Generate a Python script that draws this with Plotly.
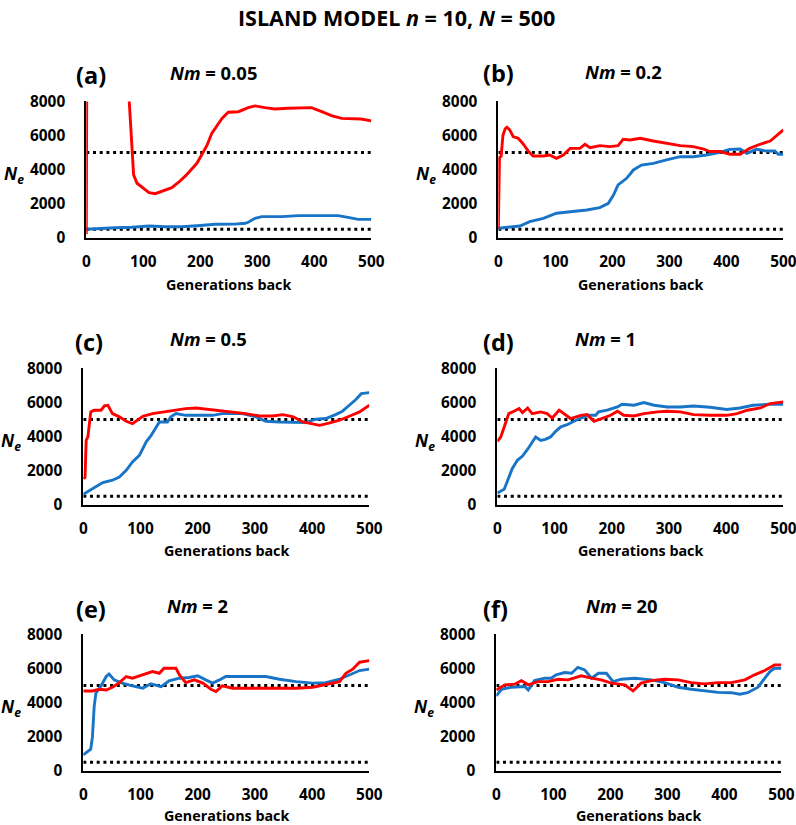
import plotly.graph_objects as go

# ---------------- data ----------------
panel_letters = ["(a)", "(b)", "(c)", "(d)", "(e)", "(f)"]
nm_values = ["0.05", "0.2", "0.5", "1", "2", "20"]
x_ticks = [0, 100, 200, 300, 400, 500]
y_ticks = [0, 2000, 4000, 6000, 8000]
NE_TOTAL = 5000
NE_LOCAL = 500

a_red_x = [0, 1, 74, 75, 78, 80, 83, 89, 101, 110, 121, 136, 150, 162, 174, 185, 194, 203, 212, 220, 226, 238, 249, 267, 284, 296, 313, 331, 354, 378, 395, 413, 430, 448, 465, 482, 500]
a_red_y = [200, 12000, 12000, 8200, 6500, 5000, 3690, 3200, 2900, 2650, 2590, 2770, 2940, 3260, 3630, 4040, 4370, 4900, 5450, 6130, 6420, 7010, 7370, 7400, 7640, 7740, 7640, 7560, 7600, 7600, 7640, 7400, 7170, 7010, 6970, 6970, 6860]
a_blue_x = [0, 22, 51, 80, 110, 140, 168, 200, 226, 260, 279, 284, 296, 308, 343, 372, 401, 442, 459, 477, 500]
a_blue_y = [500, 550, 590, 620, 690, 650, 650, 720, 790, 800, 850, 910, 1140, 1240, 1240, 1300, 1300, 1300, 1200, 1080, 1080]

b_red_x = [0, 2, 5, 8, 12, 15, 20, 26, 35, 44, 53, 61, 79, 90, 102, 114, 126, 143, 152, 161, 178, 196, 210, 219, 231, 249, 272, 295, 319, 342, 360, 371, 389, 406, 424, 441, 459, 477, 500]
b_red_y = [550, 4700, 4800, 6000, 6400, 6490, 6330, 5940, 5840, 5490, 5060, 4800, 4800, 4860, 4660, 4860, 5250, 5250, 5490, 5290, 5410, 5350, 5410, 5780, 5740, 5840, 5680, 5540, 5410, 5350, 5210, 5060, 5060, 4900, 4900, 5250, 5490, 5680, 6330]
b_blue_x = [0, 20, 38, 55, 79, 102, 126, 155, 178, 193, 202, 210, 225, 237, 251, 272, 295, 319, 342, 365, 389, 406, 424, 436, 453, 471, 485, 491, 500]
b_blue_y = [560, 650, 690, 950, 1140, 1440, 1540, 1630, 1770, 2020, 2510, 3100, 3490, 3980, 4270, 4370, 4570, 4760, 4760, 4860, 5020, 5190, 5210, 4960, 5190, 5090, 5090, 4900, 4900]

c_red_x = [0, 3, 5, 8, 13, 19, 31, 37, 43, 51, 63, 75, 86, 104, 121, 139, 162, 179, 197, 214, 238, 261, 284, 308, 331, 349, 367, 384, 402, 413, 431, 448, 466, 483, 500]
c_red_y = [1530, 1600, 3780, 3980, 5450, 5550, 5550, 5800, 5840, 5350, 5160, 4900, 4760, 5190, 5350, 5450, 5550, 5640, 5680, 5610, 5550, 5450, 5350, 5210, 5210, 5290, 5160, 4860, 4760, 4660, 4800, 4960, 5210, 5450, 5840]
c_blue_x = [0, 16, 34, 51, 63, 75, 86, 98, 110, 118, 127, 133, 147, 153, 162, 179, 209, 226, 243, 278, 302, 319, 343, 366, 389, 406, 424, 441, 453, 465, 477, 486, 500]
c_blue_y = [610, 950, 1300, 1440, 1630, 2020, 2510, 2900, 3690, 4040, 4570, 4860, 4860, 5160, 5350, 5250, 5250, 5250, 5350, 5350, 5160, 4900, 4860, 4820, 4820, 5020, 5060, 5290, 5490, 5840, 6190, 6520, 6580]

d_red_x = [0, 6, 15, 20, 29, 38, 44, 53, 61, 76, 87, 96, 108, 119, 128, 146, 157, 169, 181, 198, 210, 221, 239, 256, 280, 297, 320, 343, 372, 401, 419, 437, 460, 477, 500]
d_red_y = [3720, 3980, 4860, 5350, 5490, 5640, 5410, 5680, 5350, 5450, 5350, 5090, 5550, 5250, 5060, 5250, 5290, 4900, 5060, 5250, 5490, 5250, 5210, 5350, 5450, 5490, 5450, 5290, 5250, 5250, 5350, 5550, 5680, 5940, 6040]
d_blue_x = [0, 12, 17, 26, 35, 44, 53, 61, 67, 76, 84, 93, 102, 111, 122, 134, 146, 160, 172, 177, 192, 210, 218, 239, 256, 274, 297, 320, 343, 372, 401, 424, 447, 477, 500]
d_blue_y = [690, 910, 1340, 2120, 2610, 2860, 3260, 3690, 3980, 3780, 3840, 3980, 4310, 4570, 4700, 4900, 5090, 5250, 5250, 5450, 5550, 5740, 5900, 5840, 6000, 5840, 5740, 5740, 5800, 5720, 5590, 5680, 5840, 5900, 5900]

e_red_x = [0, 16, 28, 40, 51, 63, 75, 86, 98, 110, 121, 133, 141, 162, 168, 179, 194, 209, 223, 232, 243, 261, 284, 313, 343, 372, 401, 424, 448, 459, 471, 483, 500]
e_red_y = [4680, 4680, 4780, 4740, 4900, 5170, 5530, 5430, 5570, 5720, 5820, 5720, 6010, 6010, 5620, 5170, 5330, 5140, 4780, 4650, 4980, 4840, 4840, 4800, 4840, 4840, 4900, 5080, 5230, 5720, 5960, 6370, 6460]
e_blue_x = [0, 13, 16, 19, 22, 31, 40, 45, 54, 68, 86, 104, 118, 136, 150, 168, 185, 200, 214, 226, 238, 249, 284, 319, 343, 372, 401, 424, 448, 465, 483, 500]
e_blue_y = [930, 1260, 2000, 3760, 4550, 4980, 5530, 5680, 5330, 5140, 4980, 4840, 5100, 4940, 5280, 5430, 5470, 5570, 5330, 5140, 5330, 5530, 5530, 5530, 5370, 5230, 5140, 5170, 5370, 5630, 5880, 5960]

f_red_x = [0, 15, 32, 44, 56, 73, 91, 108, 126, 149, 167, 184, 202, 225, 240, 254, 272, 295, 319, 342, 365, 389, 412, 436, 453, 471, 488, 500]
f_red_y = [4740, 5040, 5080, 5290, 5040, 5230, 5230, 5370, 5330, 5570, 5430, 5330, 5140, 5040, 4680, 5140, 5290, 5370, 5330, 5170, 5100, 5170, 5170, 5330, 5630, 5880, 6210, 6210]
f_blue_x = [0, 9, 26, 38, 50, 56, 67, 85, 96, 105, 120, 132, 143, 155, 167, 179, 193, 205, 219, 243, 272, 295, 319, 342, 365, 389, 412, 427, 441, 459, 471, 480, 488, 500]
f_blue_y = [4390, 4780, 4900, 4900, 4940, 4740, 5290, 5430, 5430, 5630, 5760, 5720, 6070, 5920, 5430, 5720, 5720, 5230, 5370, 5430, 5330, 5170, 4900, 4780, 4700, 4600, 4580, 4490, 4580, 4900, 5430, 5820, 6010, 6010]

red_series = [(a_red_x, a_red_y), (b_red_x, b_red_y), (c_red_x, c_red_y),
              (d_red_x, d_red_y), (e_red_x, e_red_y), (f_red_x, f_red_y)]
blue_series = [(a_blue_x, a_blue_y), (b_blue_x, b_blue_y), (c_blue_x, c_blue_y),
               (d_blue_x, d_blue_y), (e_blue_x, e_blue_y), (f_blue_x, f_blue_y)]

# ---------------- layout ----------------
# target positions are picture pixels; the photographed page is mapped as
# picture = S * page + O, so positions are converted back to page pixels.
SX, SY = 0.979, 0.975
OX, OY = 2.7, 11.0
FW, FH = 812, 836
FS = 1 / 0.977          # font compensation

RED = "#FF0000"
BLUE = "#1874C6"
FONT = "Open Sans"

# plot-area boxes: (left, right, top, bottom) in picture px
boxes = [
    (85, 370, 101.5, 237.8),
    (497, 782, 101.5, 237.8),
    (82, 368, 368.5, 504.8),
    (496, 782, 368.5, 504.8),
    (82, 368, 634.5, 770.8),
    (495, 780, 634.5, 770.8),
]
letter_pos = [(73, 75), (480, 73), (72, 342), (480, 342), (73, 609), (480, 609)]
nm_pos = [(167, 73), (582, 72), (167, 339), (572, 339), (164, 606), (583, 606)]
xtitle_gap = [47, 47, 46, 46, 45, 45]


def px(x):
    return ((x - OX) / SX) / FW


def py(y):
    return 1 - ((y - OY) / SY) / FH


def fs(s):
    return round(s * FS, 1)


fig = go.Figure()
annotations = []

for i, (l, r, t, b) in enumerate(boxes):
    n = "" if i == 0 else str(i + 1)
    xa, ya = "x" + n, "y" + n
    for lvl in (NE_TOTAL, NE_LOCAL):
        fig.add_trace(go.Scatter(x=[x_ticks[0], x_ticks[-1]], y=[lvl, lvl], mode="lines",
                                 line=dict(color="black", width=3, dash="3px,3.7px"),
                                 xaxis=xa, yaxis=ya, showlegend=False, hoverinfo="skip"))
    bx, by = blue_series[i]
    fig.add_trace(go.Scatter(x=bx, y=by, mode="lines", line=dict(color=BLUE, width=2.9),
                             xaxis=xa, yaxis=ya, showlegend=False))
    rx, ry = red_series[i]
    fig.add_trace(go.Scatter(x=rx, y=ry, mode="lines", line=dict(color=RED, width=2.9),
                             xaxis=xa, yaxis=ya, showlegend=False))

    axis_common = dict(showgrid=False, zeroline=False, showline=True, linecolor="black",
                       linewidth=2, ticks="", layer="below traces",
                       tickfont=dict(family=FONT, size=fs(15), color="black", weight="bold"))
    fig.update_layout(**{
        "xaxis" + n: dict(domain=[px(l), px(r)], range=[0, 500], tickvals=x_ticks,
                          anchor=ya, ticklabelstandoff=9, **axis_common),
        "yaxis" + n: dict(domain=[py(b), py(t)], range=[0, 8000], tickvals=y_ticks,
                          anchor=xa, ticklabelstandoff=16, **axis_common),
    })

    lx, ly = letter_pos[i]
    annotations.append(dict(text="<b>%s</b>" % panel_letters[i], x=px(lx), y=py(ly),
                            xref="paper", yref="paper", xanchor="left", yanchor="middle",
                            showarrow=False, font=dict(family=FONT, size=fs(23), color="black")))
    nx, ny = nm_pos[i]
    annotations.append(dict(text="<b><i>Nm</i> = %s</b>" % nm_values[i], x=px(nx), y=py(ny),
                            xref="paper", yref="paper", xanchor="left", yanchor="middle",
                            showarrow=False, font=dict(family=FONT, size=fs(18), color="black")))
    annotations.append(dict(text="<b><i>N<sub>e</sub></i></b>", x=px(l - 72), y=py(t + 73),
                            xref="paper", yref="paper", xanchor="center", yanchor="middle",
                            showarrow=False, font=dict(family=FONT, size=fs(17), color="black")))
    annotations.append(dict(text="<b>Generations back</b>", x=px((l + r) / 2), y=py(b + xtitle_gap[i]),
                            xref="paper", yref="paper", xanchor="center", yanchor="middle",
                            showarrow=False, font=dict(family=FONT, size=fs(14), color="black")))

annotations.append(dict(text="<b>ISLAND MODEL <i>n</i> = 10, <i>N</i> = 500</b>", x=px(395), y=py(18),
                        xref="paper", yref="paper", xanchor="center", yanchor="middle",
                        showarrow=False, font=dict(family=FONT, size=fs(21), color="black")))

fig.update_layout(width=FW, height=FH, autosize=False, margin=dict(l=0, r=0, t=0, b=0),
                  paper_bgcolor="white", plot_bgcolor="white",
                  font=dict(family=FONT, color="black"), annotations=annotations)

page_fix = ("document.documentElement.style.margin='0';document.documentElement.style.padding='0';"
            "document.body.style.margin='0';document.body.style.padding='0';")
fig.write_html("out.html", post_script=page_fix, config={"displayModeBar": False})
